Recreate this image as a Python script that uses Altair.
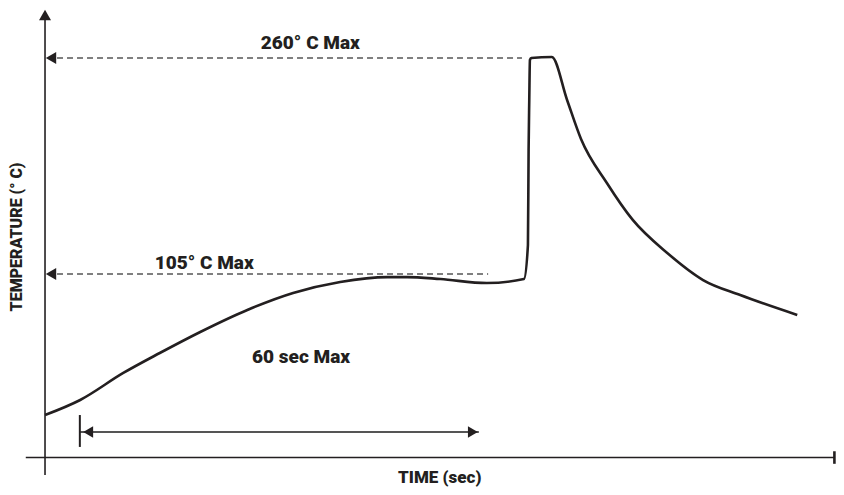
import altair as alt
import pandas as pd

# ---- solder reflow profile (time in s, temperature in deg C) ----
time_s = [0, 5.3, 11.8, 17.3, 23.4, 30.5, 37.4, 44.5, 51.6, 54.6, 59.6, 66.6,
          72.2, 72.8, 72.9, 73.0, 73.1, 73.3, 76.4, 78.7, 80.8, 84.7, 88.6,
          93.8, 99.2, 104.8, 113.4]
temp_c = [3.8, 14.6, 34.0, 48.3, 63.4, 79.2, 91.4, 99.3, 102.8, 102.8, 101.4, 98.5,
          101.4, 125.8, 194.0, 229.9, 258.6, 260.0, 260.7, 229.9, 201.9, 170.3, 143.8,
          120.1, 100.7, 89.9, 75.6]

# limit guides
limit_temps = [260, 105]
limit_ends = [71.9, 66.8]
limit_labels = ["260° C Max", "105° C Max"]
label_t = [40.0, 24.0]
label_temp = [270.8, 112.9]

# 60-second window
window_start = 5.3
window_end = 65.4
window_label = "60 sec Max"
window_label_pos = (38.6, 45.4)
window_temp = -8.4

# axes frame
axis_time_min, axis_time_max = -2.9, 119.0
axis_temp_min, axis_temp_max = -39.2, 291.0
axis_base_temp = -26.7
x_title = "TIME (sec)"
y_title = "TEMPERATURE (° C)"

X_DOM = [-5.58, 119.24]
Y_DOM = [-47.85, 295.9]
INK = "#231f20"
GUIDE = "#555555"
FONT = "Roboto, Liberation Sans, sans-serif"
WEIGHT = 900


def X(field="t"):
    return alt.X(f"{field}:Q", scale=alt.Scale(domain=X_DOM, nice=False, zero=False), axis=None)


def Y(field="T"):
    return alt.Y(f"{field}:Q", scale=alt.Scale(domain=Y_DOM, nice=False, zero=False), axis=None)


curve_df = pd.DataFrame({"t": time_s, "T": temp_c})
curve = alt.Chart(curve_df).mark_line(color=INK, strokeWidth=2.6, interpolate="monotone").encode(
    x=X(), y=Y(), order="t:Q")

# axes lines
axes_df = pd.DataFrame({
    "t": [0, axis_time_min, axis_time_max],
    "t2": [0, axis_time_max, axis_time_max],
    "T": [axis_temp_min, axis_base_temp, axis_base_temp + 4.5],
    "T2": [axis_temp_max, axis_base_temp, axis_base_temp - 4.5],
    "w": [1.6, 1.6, 2.6],
})
axes = alt.Chart(axes_df).mark_rule(color=INK).encode(
    x=X(), x2="t2:Q", y=Y(), y2="T2:Q", strokeWidth=alt.StrokeWidth("w:Q", scale=None))

y_arrow = alt.Chart(pd.DataFrame({"t": [0], "T": [295.2]})).mark_point(
    shape="triangle-up", size=144, filled=True, opacity=1, color=INK, yOffset=6).encode(x=X(), y=Y())

# dashed limit guides
lim_df = pd.DataFrame({"t": [1.81] * 2, "t2": limit_ends, "T": limit_temps})
lim = alt.Chart(lim_df).mark_rule(color=GUIDE, strokeDash=[6, 4], strokeWidth=1.4).encode(
    x=X(), x2="t2:Q", y=Y())
lim_arrow = alt.Chart(pd.DataFrame({"t": [0] * 2, "T": limit_temps})).mark_point(
    shape="triangle-left", size=144, filled=True, opacity=1, color=INK, xOffset=6).encode(x=X(), y=Y())
lim_text = alt.Chart(pd.DataFrame({"t": label_t, "T": label_temp, "label": limit_labels})).mark_text(
    font=FONT, fontWeight=WEIGHT, fontSize=19, color=INK, align="center").encode(
    x=X(), y=Y(), text="label:N")

# 60 s window
win_line = alt.Chart(pd.DataFrame({"t": [window_start], "t2": [window_end], "T": [window_temp]})).mark_rule(
    color=GUIDE, strokeWidth=2).encode(x=X(), x2="t2:Q", y=Y())
win_bar = alt.Chart(pd.DataFrame({"t": [window_start - 0.05], "T": [3.8], "T2": [-19.1]})).mark_rule(
    color=INK, strokeWidth=2).encode(x=X(), y=Y(), y2="T2:Q")
win_left = alt.Chart(pd.DataFrame({"t": [window_start + 0.3], "T": [window_temp]})).mark_point(
    shape="triangle-left", size=130, filled=True, opacity=1, color=INK, xOffset=6).encode(x=X(), y=Y())
win_right = alt.Chart(pd.DataFrame({"t": [window_end], "T": [window_temp]})).mark_point(
    shape="triangle-right", size=130, filled=True, opacity=1, color=INK, xOffset=-6).encode(x=X(), y=Y())
win_text = alt.Chart(pd.DataFrame({"t": [window_label_pos[0]], "T": [window_label_pos[1]],
                                   "label": [window_label]})).mark_text(
    font=FONT, fontWeight=WEIGHT, fontSize=19, color=INK, align="center").encode(
    x=X(), y=Y(), text="label:N")

# axis titles
xt = alt.Chart(pd.DataFrame({"t": [59.5], "T": [-47.85], "label": [x_title]})).mark_text(
    font=FONT, fontWeight=WEIGHT, fontSize=17, color=INK, align="center", baseline="bottom").encode(
    x=X(), y=Y(), text="label:N")
yt = alt.Chart(pd.DataFrame({"t": [-4.2], "T": [131.6], "label": [y_title]})).mark_text(
    font=FONT, fontWeight=WEIGHT, fontSize=16, color=INK, align="center", baseline="middle",
    angle=270).encode(x=X(), y=Y(), text="label:N")

chart = alt.layer(
    lim, axes, y_arrow, lim_arrow, win_line, win_bar, win_left, win_right,
    curve, lim_text, win_text, xt, yt,
).properties(
    width=828, height=479, padding=0, autosize="none", background="white"
).configure_view(stroke=None)

chart.save("out.html", embed_options={"renderer": "svg", "actions": False})
